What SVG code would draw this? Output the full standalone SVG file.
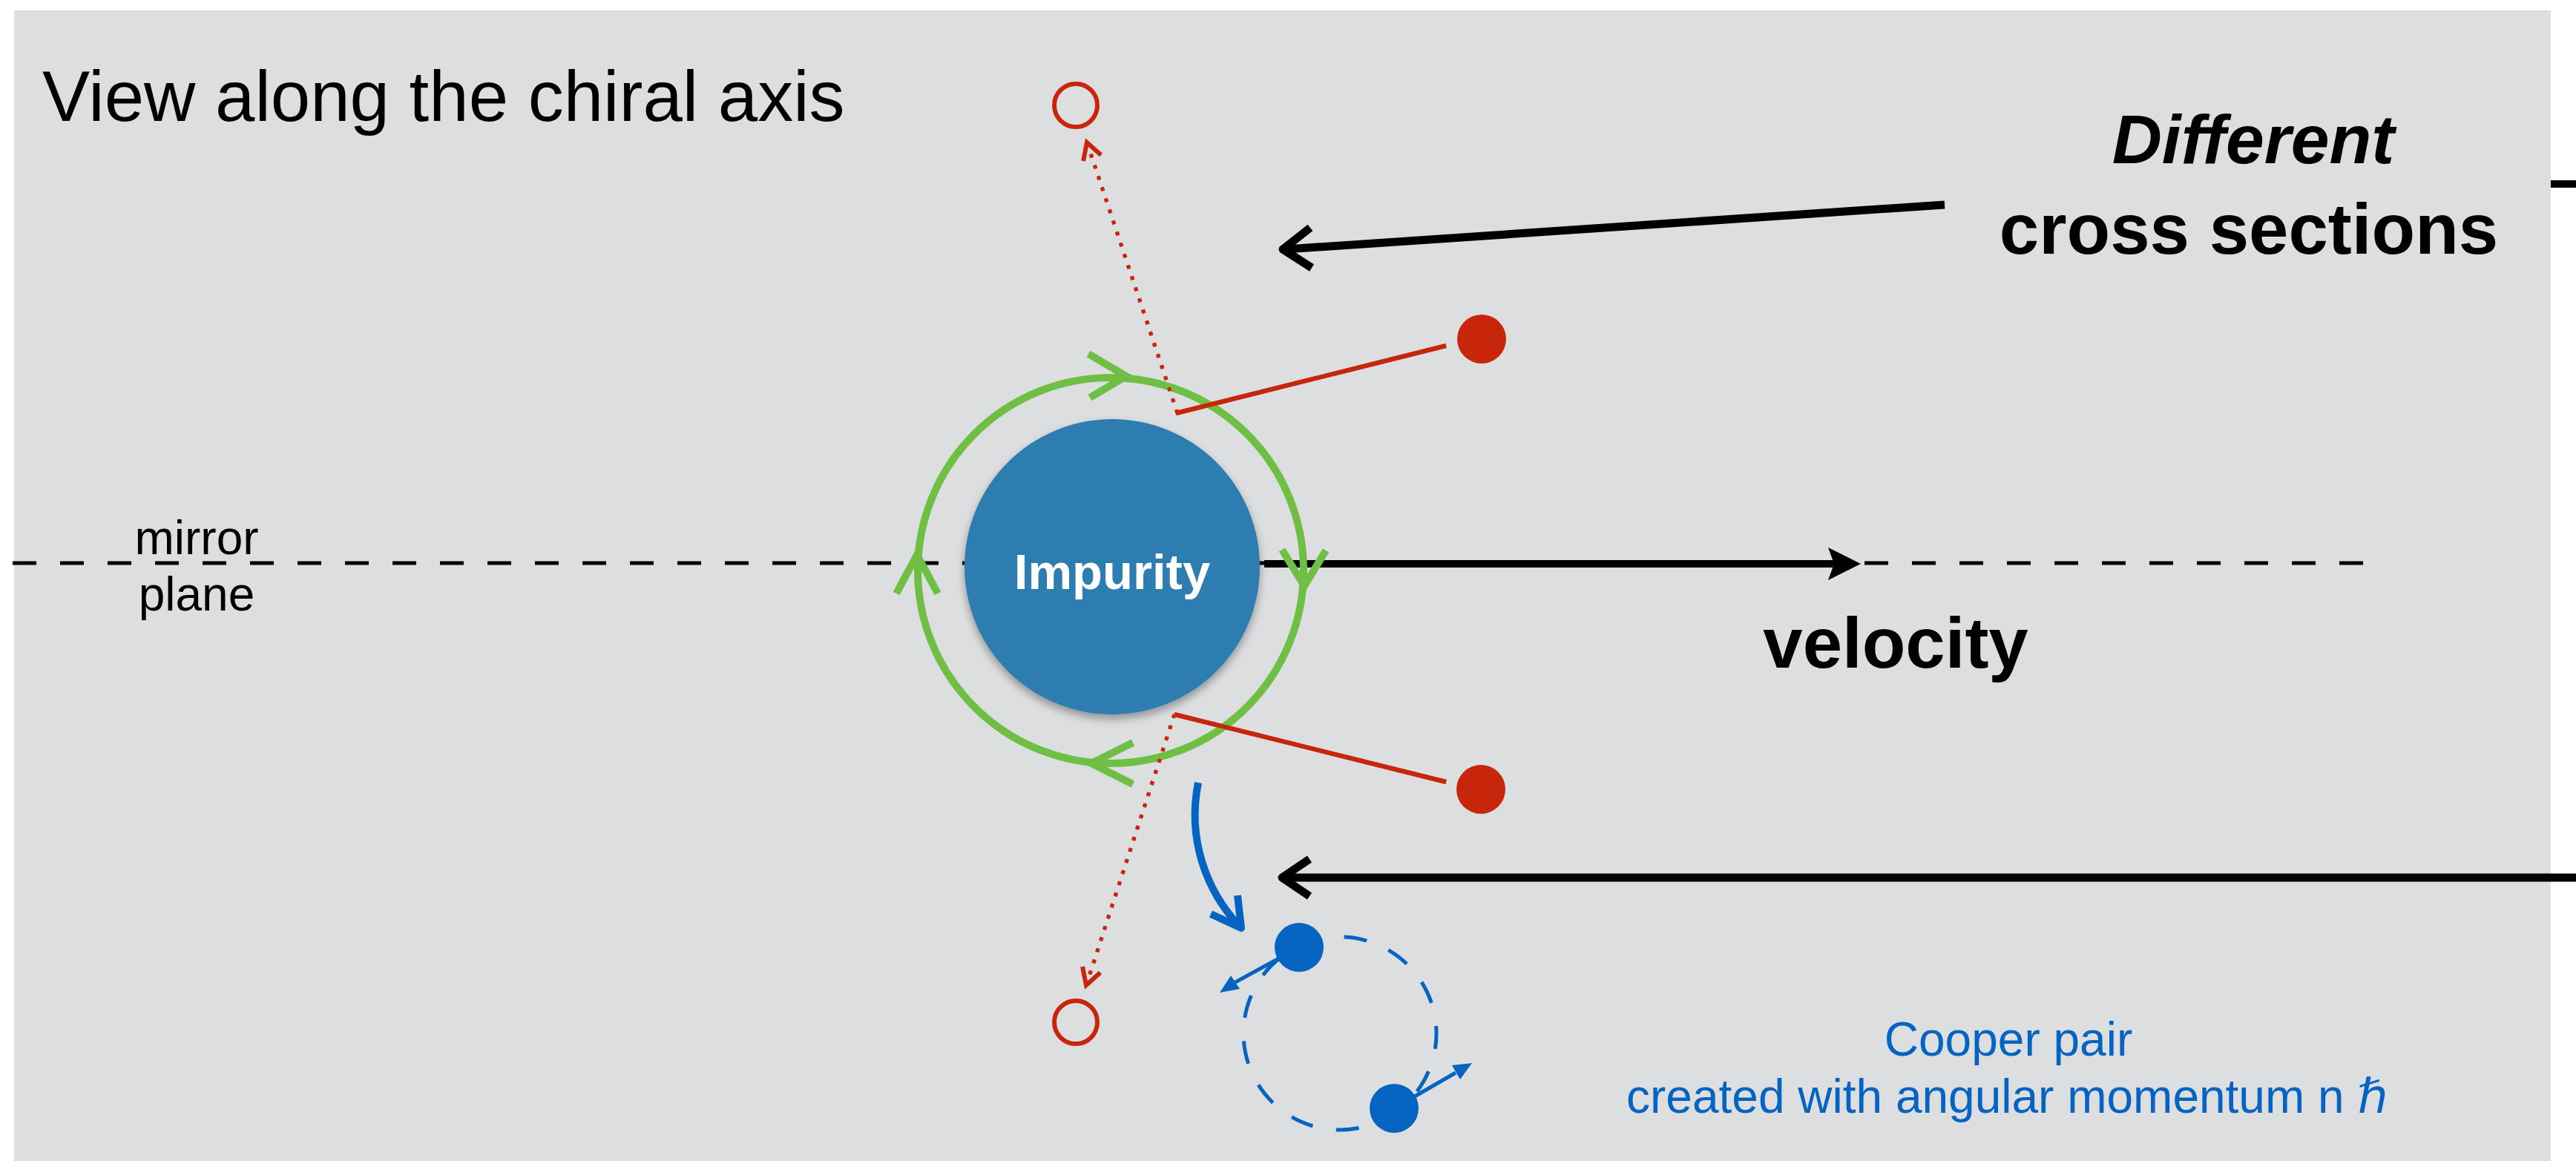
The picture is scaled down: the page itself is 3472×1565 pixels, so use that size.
<svg xmlns="http://www.w3.org/2000/svg" width="3472" height="1565" viewBox="0 0 3472 1565">
  <defs>
    <style>
      .sans { font-family: "Liberation Sans", Arial, Helvetica, sans-serif; }
      .bold { font-weight: bold; }
      .blk { fill: none; stroke: #000; }
      .red { stroke: #C8260A; fill: none; }
      .grn { stroke: #70BF45; fill: none; stroke-width: 10; }
      .blu { stroke: #0563C1; fill: none; }
    </style>
    <filter id="shadow" x="-20%" y="-20%" width="140%" height="150%">
      <feDropShadow dx="0" dy="6" stdDeviation="6" flood-color="#000" flood-opacity="0.35"/>
    </filter>
  </defs>

  <!-- page and panel -->
  <rect x="0" y="0" width="3472" height="1565" fill="#FFFFFF"/>
  <rect x="19" y="14" width="3419" height="1551" fill="#DDDEE0"/>

  <!-- title -->
  <text class="sans" x="57" y="163" font-size="96" fill="#000">View along the chiral axis</text>

  <!-- mirror plane label -->
  <g id="mirror-label" class="sans" font-size="64" fill="#000" text-anchor="middle">
    <text x="265" y="747">mirror</text>
    <text x="265" y="823">plane</text>
  </g>

  <g id="connectors">
    <!-- mirror plane (dashed) -->
    <line x1="17" y1="759" x2="3186" y2="759" stroke="#000" stroke-width="5" stroke-dasharray="32 32"/>

    <!-- velocity arrow -->
    <line x1="1704" y1="760" x2="2472" y2="760" stroke="#000" stroke-width="10"/>
    <polygon points="2508,760 2464,738 2472,760 2464,782" fill="#000"/>

    <!-- scattered red paths (upper) -->
    <line class="red" x1="1587" y1="557" x2="1466" y2="195" stroke-width="5" stroke-dasharray="5 10.8"/>
    <polyline class="red" points="1460,217 1465,192 1484,209" stroke-width="6"/>
    <line class="red" x1="1585" y1="557" x2="1949" y2="466" stroke-width="6"/>

    <!-- scattered red paths (lower) -->
    <line class="red" x1="1583" y1="963" x2="1465" y2="1325" stroke-width="5" stroke-dasharray="5 10.8"/>
    <polyline class="red" points="1459,1303 1464,1328 1483,1311" stroke-width="6"/>
    <line class="red" x1="1583" y1="963" x2="1949" y2="1054" stroke-width="6"/>

    <!-- cross-section pointer arrows -->
    <line class="blk" x1="2621" y1="276" x2="1733" y2="336" stroke-width="11"/>
    <polyline class="blk" points="1766,307 1729,336 1768,361" stroke-width="11" stroke-linejoin="round"/>
    <line class="blk" x1="3472" y1="1183" x2="1731" y2="1183" stroke-width="11"/>
    <polyline class="blk" points="1765,1158 1728,1183 1765,1208" stroke-width="11" stroke-linejoin="round"/>
    <line class="blk" x1="3438" y1="248" x2="3472" y2="248" stroke-width="10"/>

    <!-- pair creation arrow -->
    <path class="blu" d="M1615,1055 C1600,1130 1625,1200 1671,1249" stroke-width="10"/>
    <polyline class="blu" points="1668,1207 1673,1251 1632,1232" stroke-width="10" stroke-linejoin="round"/>
  </g>

  <!-- impurity -->
  <g id="impurity">
    <circle cx="1499" cy="764" r="199" fill="#2D7DB0" filter="url(#shadow)"/>
    <text class="sans bold" x="1499" y="794" font-size="67" fill="#FFFFFF" text-anchor="middle">Impurity</text>
  </g>

  <!-- orbit around impurity with direction marks -->
  <g id="orbit">
    <circle class="grn" cx="1497" cy="769" r="260"/>
    <polyline class="grn" points="1467,477 1518,507 1469,536"/>
    <polyline class="grn" points="1728,741 1758,790 1787,742"/>
    <polyline class="grn" points="1527,1001 1471,1029 1527,1057"/>
    <polyline class="grn" points="1208,800 1236,748 1264,800"/>
  </g>

  <!-- red paths drawn again above the orbit -->
  <g id="red-overlay">
    <line class="red" x1="1585" y1="557" x2="1949" y2="466" stroke-width="6"/>
    <line class="red" x1="1583" y1="963" x2="1949" y2="1054" stroke-width="6"/>
    <line class="red" x1="1587" y1="557" x2="1466" y2="195" stroke-width="5" stroke-dasharray="5 10.8"/>
    <line class="red" x1="1583" y1="963" x2="1465" y2="1325" stroke-width="5" stroke-dasharray="5 10.8"/>
  </g>

  <!-- particles -->
  <g id="particle-in-top"><circle cx="1997" cy="457" r="33" fill="#C8260A"/></g>
  <g id="particle-in-bottom"><circle cx="1996" cy="1064" r="33" fill="#C8260A"/></g>
  <g id="hole-top"><circle class="red" cx="1450" cy="142" r="29" stroke-width="6"/></g>
  <g id="hole-bottom"><circle class="red" cx="1450" cy="1378" r="29" stroke-width="6"/></g>

  <!-- Cooper pair -->
  <g id="cooper-pair">
    <circle class="blu" cx="1806" cy="1393" r="130" stroke-width="5" stroke-dasharray="31 31.8" stroke-dashoffset="10"/>
    <line class="blu" x1="1751" y1="1277" x2="1665" y2="1324" stroke-width="5"/>
    <polygon points="1644,1338 1671,1333 1659,1315" fill="#0563C1"/>
    <line class="blu" x1="1879" y1="1494" x2="1962" y2="1446" stroke-width="5"/>
    <polygon points="1984,1433 1968,1455 1957,1436" fill="#0563C1"/>
    <circle cx="1751" cy="1277" r="33" fill="#0563C1"/>
    <circle cx="1879" cy="1494" r="33" fill="#0563C1"/>
  </g>

  <!-- labels -->
  <text class="sans bold" x="2555" y="900" font-size="96" fill="#000" text-anchor="middle">velocity</text>
  <g id="cross-label" class="sans bold" fill="#000" text-anchor="middle">
    <text x="3037" y="220" font-size="93" font-style="italic">Different</text>
    <text x="3031" y="342" font-size="96">cross sections</text>
  </g>
  <g id="pair-label" class="sans" font-size="64" fill="#0563C1" text-anchor="middle">
    <text x="2707" y="1423">Cooper pair</text>
    <text x="2705" y="1500">created with angular momentum n <tspan font-family="'DejaVu Sans', 'Noto Sans', sans-serif" font-style="normal">ℏ</tspan></text>
  </g>
</svg>
